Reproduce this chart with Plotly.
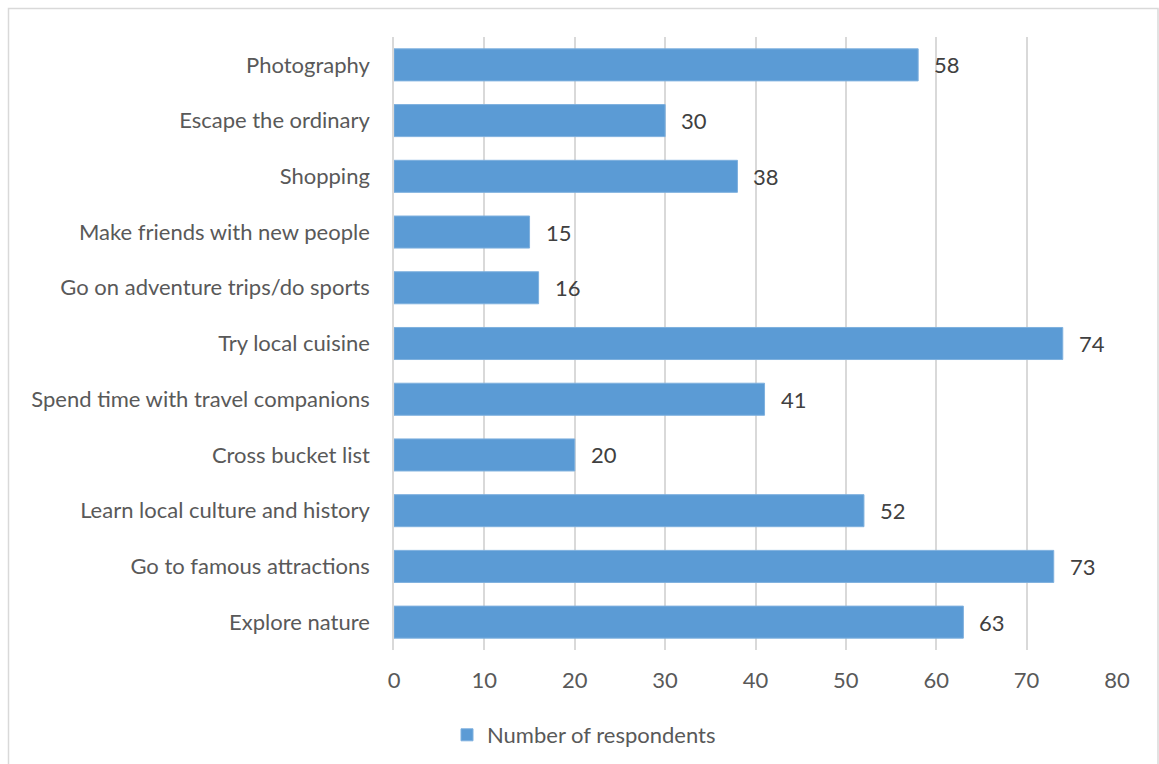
import plotly.graph_objects as go

# Survey data: reasons for travelling (listed bottom to top on the chart)
categories = [
    "Explore nature",
    "Go to famous attractions",
    "Learn local culture and history",
    "Cross bucket list",
    "Spend time with travel companions",
    "Try local cuisine",
    "Go on adventure trips/do sports",
    "Make friends with new people",
    "Shopping",
    "Escape the ordinary",
    "Photography",
]
respondents = [63, 73, 52, 20, 41, 74, 16, 15, 38, 30, 58]
series_name = "Number of respondents"
x_ticks = [0, 10, 20, 30, 40, 50, 60, 70, 80]

W, H = 1159, 764
L, R, T, B = 394, 1117, 37, 650  # plot area in pixels


def px(x):
    return (x - L) / (R - L)


def py(y):
    return (B - y) / (B - T)


FONT = "Lato"
FS = 22
BAR = "#5B9BD5"

fig = go.Figure()
fig.add_trace(
    go.Bar(
        y=categories,
        x=respondents,
        orientation="h",
        name=series_name,
        marker=dict(color=BAR, line=dict(color="#7EB0DE", width=1)),
        width=0.575,
        hoverinfo="x+y",
    )
)

# value labels to the right of each bar
for cat, val in zip(categories, respondents):
    fig.add_annotation(
        x=val, y=cat, text=str(val), showarrow=False,
        xanchor="left", xshift=14,
        font=dict(family=FONT, size=FS, color="#404040"),
    )

# outer chart frame (top, left, right edges)
fig.add_shape(
    type="rect", xref="paper", yref="paper",
    x0=px(8.5), x1=px(1158), y0=py(790), y1=py(8.5),
    line=dict(color="#D9D9D9", width=1.5), fillcolor="rgba(0,0,0,0)",
    layer="below",
)

fig.update_layout(
    width=W, height=H,
    margin=dict(l=L, r=W - R, t=T, b=H - B, autoexpand=False),
    plot_bgcolor="white", paper_bgcolor="white",
    font=dict(family=FONT, size=FS, color="#595959"),
    bargap=0.425,
    showlegend=True,
    legend=dict(
        orientation="h", xref="container", x=584 / W, xanchor="center",
        yref="container", y=1 - 735 / H, yanchor="middle",
        font=dict(family=FONT, size=FS, color="#595959"),
        itemwidth=30,
    ),
    xaxis=dict(
        range=[0, 80], tickvals=x_ticks,
        showgrid=True, gridcolor="#D9D9D9", gridwidth=1.5,
        zeroline=False, showline=False, ticks="",
        ticklabelstandoff=15,
        tickfont=dict(family=FONT, size=FS, color="#595959"),
        fixedrange=True,
    ),
    yaxis=dict(
        categoryorder="array", categoryarray=categories,
        showline=True, linecolor="#D9D9D9", linewidth=1.5,
        showgrid=False, ticks="",
        ticklabelstandoff=18,
        tickfont=dict(family=FONT, size=FS, color="#595959"),
        fixedrange=True,
    ),
)

fig.write_html("out.html")
